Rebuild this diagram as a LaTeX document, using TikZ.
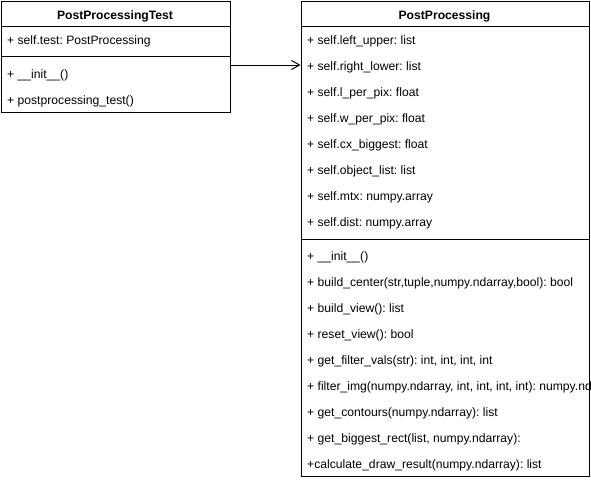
\documentclass[tikz,border=0pt]{standalone}
\usepackage{fontspec}
\setmainfont{Liberation Sans}
\usetikzlibrary{arrows.meta}
\frenchspacing
\begin{document}
\begin{tikzpicture}[x=1pt,y=-1pt,
  classbox/.style={draw=black,line width=1pt,fill=white,inner sep=0pt,anchor=north west},
  sepline/.style={draw=black,line width=1pt},
  member/.style={anchor=base west,inner sep=0pt,font=\fontsize{12.15}{14}\selectfont\frenchspacing},
  title/.style={anchor=base,inner sep=0pt,font=\fontsize{12.15}{14}\selectfont\bfseries},
  assoc/.style={draw=black,line width=1pt,-{Straight Barb[length=8pt,width=9pt,line width=1pt]}}]
\useasboundingbox (0,0) rectangle (591,480);
\fill[white] (0,0) rectangle (591,480);
% left class
\node[classbox,minimum width=229.5pt,minimum height=111pt] (ppt) at (0.5,1) {};
\draw[sepline] (ppt.west |- 0,26) -- (ppt.east |- 0,26);
\draw[sepline] (ppt.west |- 0,56) -- (ppt.east |- 0,56);
\node[title] (ptitle) at (115,19) {PostProcessingTest};
\node[member] (pa1) at (7,44.5) {+ self.test: PostProcessing};
\node[member] (pm1) at (7,78.5) {+ \_\_init\_\_()};
\node[member] (pm2) at (7,104.5) {+ postprocessing\_test()};
% right class
\node[classbox,minimum width=288pt,minimum height=475pt] (pp) at (300.5,1) {};
\draw[sepline] (pp.west |- 0,26) -- (pp.east |- 0,26);
\draw[sepline] (pp.west |- 0,239) -- (pp.east |- 0,239);
\node[title] (qtitle) at (444.5,19) {PostProcessing};
\node[member] (qa1) at (307,44.5) {+ self.left\_upper: list};
\node[member] (qa2) at (307,70.5) {+ self.right\_lower: list};
\node[member] (qa3) at (307,96.5) {+ self.l\_per\_pix: float};
\node[member] (qa4) at (307,122.5) {+ self.w\_per\_pix: float};
\node[member] (qa5) at (307,148.5) {+ self.cx\_biggest: float};
\node[member] (qa6) at (307,174.5) {+ self.object\_list: list};
\node[member] (qa7) at (307,200.5) {+ self.mtx: numpy.array};
\node[member] (qa8) at (307,226.5) {+ self.dist: numpy.array};
\node[member] (qm1) at (307,260.5) {+ \_\_init\_\_()};
\node[member] (qm2) at (307,286.5) {+ build\_center(str,tuple,numpy.ndarray,bool): bool};
\node[member] (qm3) at (307,312.5) {+ build\_view(): list};
\node[member] (qm4) at (307,338.5) {+ reset\_view(): bool};
\node[member] (qm5) at (307,364.5) {+ get\_filter\_vals(str): int, int, int, int};
\node[member] (qm6) at (307,390.5) {+ filter\_img(numpy.ndarray, int, int, int, int): numpy.ndarray};
\node[member] (qm7) at (307,416.5) {+ get\_contours(numpy.ndarray): list};
\node[member] (qm8) at (307,442.5) {+ get\_biggest\_rect(list, numpy.ndarray):};
\node[member] (qm9) at (307,468.5) {+calculate\_draw\_result(numpy.ndarray): list};
% association
\coordinate (from) at (ppt.east |- 0,65);
\coordinate (to) at (pp.west |- 0,65);
\draw[assoc] (from) -- (to);
\end{tikzpicture}
\end{document}
